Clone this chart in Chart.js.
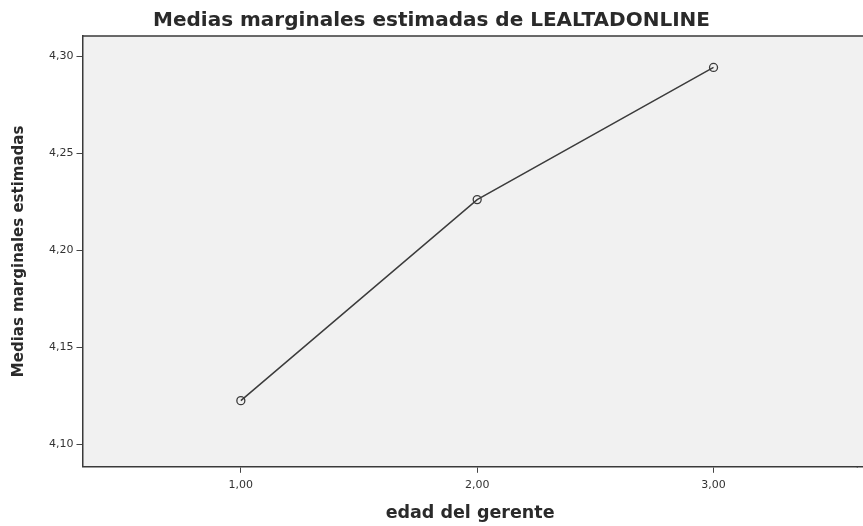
<!DOCTYPE html>
<html>
<head>
<meta charset="utf-8">
<script src="https://cdn.jsdelivr.net/npm/chart.js@4/dist/chart.umd.min.js"></script>
<style>
  html, body { margin: 0; padding: 0; background: #fff; }
  #wrap { width: 863px; height: 526px; }
</style>
</head>
<body>
<div id="wrap"><canvas id="meansChart" width="863" height="526"></canvas></div>
<script>
// Estimated marginal means of LEALTADONLINE by manager age group
const ageGroups = [1, 2, 3];
const marginalMeans = [4.1226, 4.2262, 4.2943];
const xTicks = [1, 2, 3];
const yTicks = [4.10, 4.15, 4.20, 4.25, 4.30];

const fmt = (v) => v.toFixed(2).replace(".", ",");

// light grey plot background, running off the right edge like the scan
const plotFrame = {
    id: "plotFrame",
    beforeDraw(chart) {
        const { ctx, chartArea: a } = chart;
        ctx.save();
        ctx.fillStyle = "#f1f1f1";
        ctx.fillRect(a.left, a.top, chart.width - a.left, a.bottom - a.top);
        ctx.restore();
    },
    afterDraw(chart) {
        const { ctx, chartArea: a } = chart;
        ctx.save();
        ctx.strokeStyle = "#3a3a3a";
        ctx.lineWidth = 1.5;
        ctx.beginPath();
        ctx.moveTo(a.left, a.top);
        ctx.lineTo(chart.width, a.top);
        ctx.moveTo(a.right - 1, a.bottom);
        ctx.lineTo(chart.width, a.bottom);
        ctx.stroke();
        ctx.restore();
    },
};

const meansCtx = document.getElementById("meansChart").getContext("2d");
new Chart(meansCtx, {
    type: "line",
    data: {
        datasets: [
            {
                data: ageGroups.map((x, i) => ({ x: x, y: marginalMeans[i] })),
                borderColor: "#3c3c3c",
                borderWidth: 1.5,
                pointRadius: 4,
                pointBorderWidth: 1.3,
                pointBackgroundColor: "rgba(0,0,0,0)",
                pointBorderColor: "#3c3c3c",
                tension: 0,
            },
        ],
    },
    options: {
        responsive: false,
        animation: false,
        layout: {
            padding: { left: 0, right: 0, top: 2, bottom: 2 },
        },
        scales: {
            x: {
                type: "linear",
                min: 0.33,
                max: 3.61,
                afterBuildTicks: (axis) => {
                    axis.ticks = xTicks.map((v) => ({ value: v }));
                },
                ticks: {
                    callback: (v) => fmt(v),
                    color: "#333",
                    font: { family: "DejaVu Sans", size: 11 },
                    padding: 6,
                    maxRotation: 0,
                },
                grid: {
                    drawOnChartArea: false,
                    drawTicks: true,
                    tickLength: 6,
                    tickColor: "#444",
                },
                border: { color: "#3a3a3a", width: 1.5 },
                title: {
                    display: true,
                    text: "edad del gerente",
                    color: "#2a2a2a",
                    font: { family: "DejaVu Sans", size: 17.5, weight: "bold" },
                    padding: { top: 5, bottom: 0 },
                },
            },
            y: {
                min: 4.0885,
                max: 4.3105,
                afterBuildTicks: (axis) => {
                    axis.ticks = yTicks.map((v) => ({ value: v }));
                },
                ticks: {
                    callback: (v) => fmt(v),
                    color: "#333",
                    font: { family: "DejaVu Sans", size: 11 },
                    padding: 3,
                },
                grid: {
                    drawOnChartArea: false,
                    drawTicks: true,
                    tickLength: 6,
                    tickColor: "#444",
                },
                border: { color: "#3a3a3a", width: 1.5 },
                title: {
                    display: true,
                    text: "Medias marginales estimadas",
                    color: "#2a2a2a",
                    font: { family: "DejaVu Sans", size: 15, weight: "bold" },
                    padding: { top: 10, bottom: 18 },
                },
            },
        },
        plugins: {
            legend: { display: false },
            tooltip: { enabled: false },
            title: {
                display: true,
                text: "Medias marginales estimadas de LEALTADONLINE",
                color: "#2a2a2a",
                font: { family: "DejaVu Sans", size: 20, weight: "bold" },
                padding: { top: 7, bottom: 3 },
            },
        },
    },
    plugins: [plotFrame],
});
</script>
</body>
</html>
